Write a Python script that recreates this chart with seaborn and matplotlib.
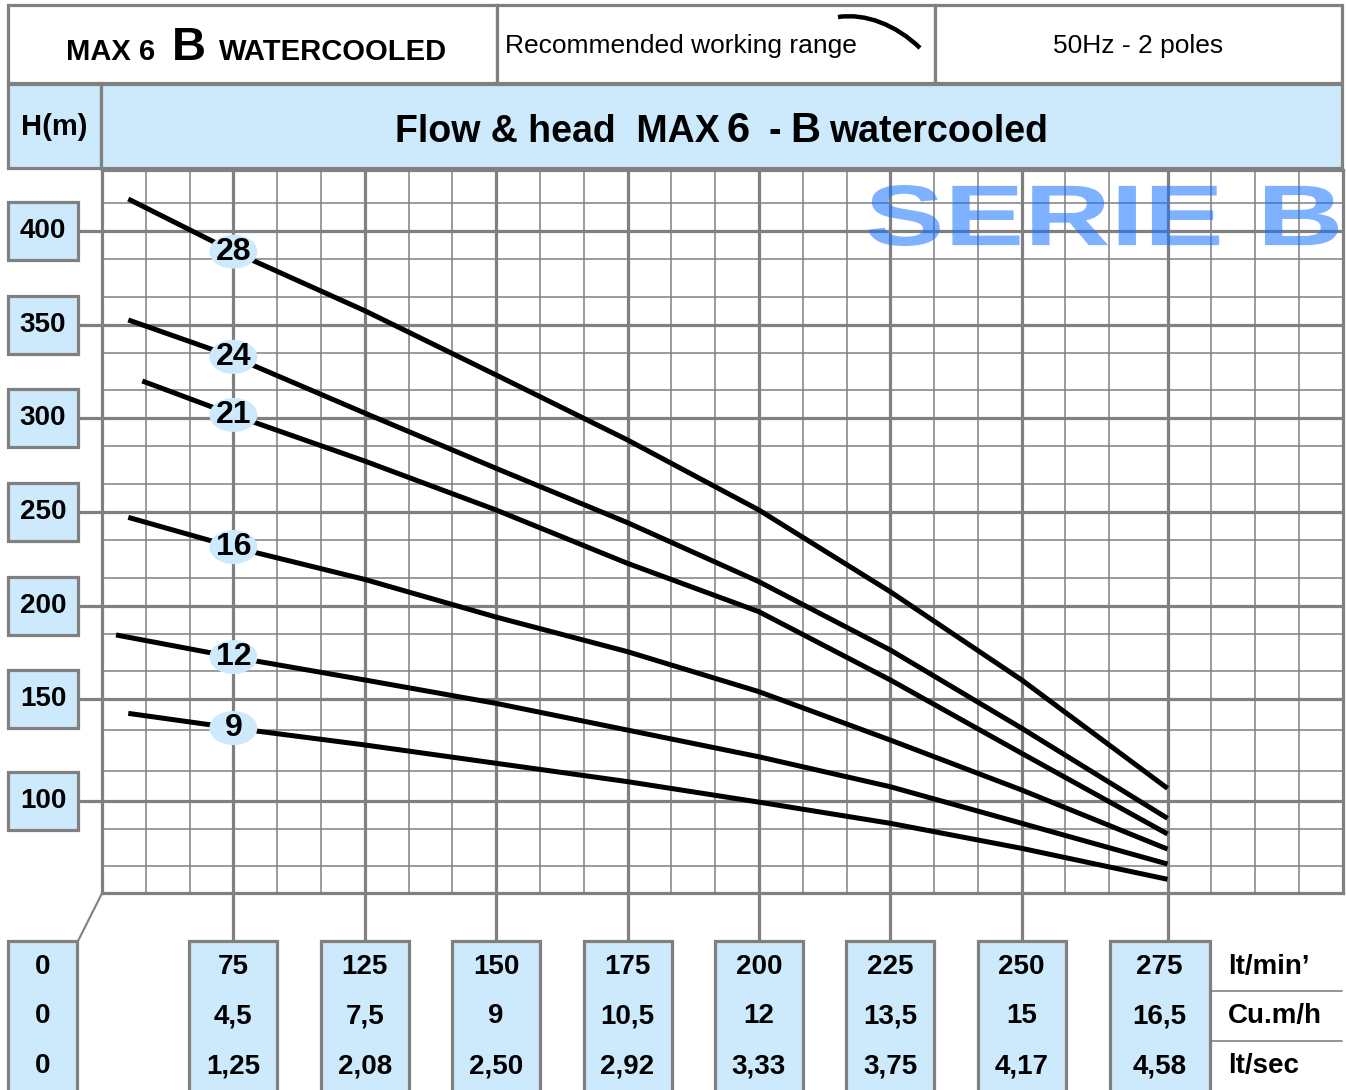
# 水泵性能曲线 MAX 6 B watercooled
import numpy as np
import pandas as pd
import seaborn as sns
import matplotlib.pyplot as plt
from matplotlib.patches import Rectangle, Ellipse, PathPatch
from matplotlib.path import Path
from matplotlib.textpath import TextPath
from matplotlib.font_manager import FontProperties
from matplotlib.transforms import Affine2D

sns.set_style('white')
plt.rcParams['font.family'] = ['Liberation Sans', 'DejaVu Sans']
plt.rcParams['text.color'] = 'black'

# 级数 (曲线标签)
stages = [28, 24, 21, 16, 12, 9]
# 每条曲线的起始流量 (lt/min)
flow_start = [15, 15, 23, 15, 8, 15]
# 曲线读数所在的流量
flow_pts = [75, 125, 150, 175, 200, 225, 250, 275]
# 扬程 H(m): 起点 + flow_pts
head_28 = [417.0, 389.0, 357.6, 323.2, 288.4, 250.9, 207.7, 160.4, 106.3]
head_24 = [352.7, 332.9, 302.8, 273.2, 244.2, 213.0, 176.5, 135.8, 90.7]
head_21 = [320.0, 301.8, 277.1, 250.9, 222.7, 197.1, 160.4, 123.5, 82.2]
head_16 = [247.0, 231.3, 214.2, 194.2, 175.6, 154.1, 130.0, 105.5, 74.0]
head_12 = [184.6, 172.7, 160.4, 148.0, 134.9, 121.8, 107.1, 88.0, 65.9]
head_9 = [143.1, 135.9, 127.6, 118.6, 109.6, 99.5, 88.0, 74.4, 57.6]
heads = [head_28, head_24, head_21, head_16, head_12, head_9]

# 坐标表格
flow_lpm = [0, 75, 125, 150, 175, 200, 225, 250, 275]
flow_m3h = ['0', '4,5', '7,5', '9', '10,5', '12', '13,5', '15', '16,5']
flow_ls = ['0', '1,25', '2,08', '2,50', '2,92', '3,33', '3,75', '4,17', '4,58']
head_ticks = [400, 350, 300, 250, 200, 150, 100]
unit_names = ['lt/min’', 'Cu.m/h', 'lt/sec']

# 原图网格不是线性的, 用分段函数做坐标轴
FLOW_ANCHOR = [0, 75, 125, 150, 175, 200, 225, 250, 275, 308]
U_ANCHOR = [0, 3, 6, 9, 12, 15, 18, 21, 24.33, 28.33]
H_ANCHOR = [50, 100, 150, 200, 250, 300, 350, 400, 432.4]
V_ANCHOR = [0, 92.1, 194, 287, 381.6, 475, 568.3, 662.3, 723.3]


def fwd_x(f):
    return np.interp(f, FLOW_ANCHOR, U_ANCHOR)


def inv_x(u):
    return np.interp(u, U_ANCHOR, FLOW_ANCHOR)


def fwd_y(h):
    return np.interp(h, H_ANCHOR, V_ANCHOR)


def inv_y(v):
    return np.interp(v, V_ANCHOR, H_ANCHOR)


W, H = 1346, 1090
GRAY = '#808080'
LBLUE = '#cdeafc'

fig = plt.figure(figsize=(W / 100, H / 100), dpi=100, facecolor='white')
ax = fig.add_axes([102 / W, (H - 893.3) / H, (1342.7 - 102) / W, (893.3 - 170) / H])

# 曲线数据
frames = []
for s, st, h in zip(stages, flow_start, heads):
    frames.append(pd.DataFrame({'flow': [st] + flow_pts, 'head': h, 'stage': s}))
df = pd.concat(frames, ignore_index=True)

sns.lineplot(data=df, x='flow', y='head', units='stage', estimator=None,
             color='black', linewidth=3.6, sort=False, legend=False, ax=ax,
             solid_capstyle='butt', solid_joinstyle='round', zorder=3)

ax.set_xscale('function', functions=(fwd_x, inv_x))
ax.set_yscale('function', functions=(fwd_y, inv_y))
ax.set_xlim(0, 308)
ax.set_ylim(50, 432.4)
ax.set_xlabel('')
ax.set_ylabel('')

# 网格
minor_u = [u for u in range(1, 24) if u % 3 != 0] + [25.33, 26.33, 27.33]
ax.set_xticks(flow_lpm[1:])
ax.set_xticks(inv_x(np.array(minor_u)), minor=True)
ax.set_yticks(head_ticks)
minor_h = [h for h in range(65, 420, 50)] + [h for h in range(85, 420, 50)]
ax.set_yticks(minor_h, minor=True)
ax.grid(which='major', color=GRAY, lw=2.3)
ax.grid(which='minor', color=GRAY, lw=1.1)
ax.tick_params(which='both', length=0, labelbottom=False, labelleft=False)
for sp in ax.spines.values():
    sp.set_color(GRAY)
    sp.set_linewidth(2.3)


def to_px(f, h):
    dx, dy = ax.transData.transform((f, h))
    return dx, H - dy


# 叠加层, 像素坐标
ov = fig.add_axes([0, 0, 1, 1], zorder=5)
ov.set_xlim(0, W)
ov.set_ylim(H, 0)
ov.axis('off')


def box(x0, y0, x1, y1, fc=LBLUE):
    ov.add_patch(Rectangle((x0, y0), x1 - x0, y1 - y0, fc=fc, ec=GRAY, lw=2.3))


# 表头
box(8, 5, 497, 83, 'white')
box(497, 5, 935, 83, 'white')
box(935, 5, 1342, 83, 'white')
box(8, 84, 101, 168)
box(101, 84, 1342, 168)

ov.text(66, 60, 'MAX 6', fontsize=21, weight='bold', va='baseline')
ov.text(172, 60, 'B', fontsize=34, weight='bold', va='baseline')
ov.text(219, 60, 'WATERCOOLED', fontsize=21, weight='bold', va='baseline')
ov.text(505, 53, 'Recommended working range', fontsize=19, va='baseline')
arc = Path([(838, 17), (866, 13), (896, 25), (920, 48)],
           [Path.MOVETO, Path.CURVE4, Path.CURVE4, Path.CURVE4])
ov.add_patch(PathPatch(arc, fc='none', ec='black', lw=3.2))
ov.text(1138, 53, '50Hz - 2 poles', fontsize=19, ha='center', va='baseline')

ov.text(54, 127, 'H(m)', fontsize=21, weight='bold', ha='center', va='center')
ov.text(395, 142, 'Flow & head  MAX', fontsize=27, weight='bold', va='baseline')
ov.text(727, 142, '6', fontsize=30, weight='bold', va='baseline')
ov.text(768, 142, '-', fontsize=27, weight='bold', va='baseline')
ov.text(790, 142, 'B', fontsize=30, weight='bold', va='baseline')
ov.text(829, 142, 'watercooled', fontsize=27, weight='bold', va='baseline')

# SERIE B 水印
tp = TextPath((0, 0), 'SERIE B', size=100,
              prop=FontProperties(family='Liberation Sans', weight='bold'))
bb = tp.get_extents()
tr = (Affine2D().translate(-bb.x0, -bb.y0)
      .scale(470 / bb.width, -61 / bb.height).translate(868, 246))
ov.add_patch(PathPatch(tr.transform_path(tp), fc='#1571ff', ec='none', alpha=0.55))

# 左侧扬程刻度
for h in head_ticks:
    _, py = to_px(10, h)
    ov.plot([78, 102], [py, py], color=GRAY, lw=2.3)
    box(8, py - 29, 78, py + 29)
    ov.text(43, py, str(h), fontsize=20, weight='bold', ha='center', va='center')

# 底部流量表
rows_y = [967, 1016, 1066]
ov.plot([102, 78], [893.3, 941], color=GRAY, lw=1.5)
for f, m3, ls in zip(flow_lpm, flow_m3h, flow_ls):
    if f == 0:
        cx = 42.5
        box(8, 941, 77, 1100)
    else:
        cx, _ = to_px(f, 60)
        ov.plot([cx, cx], [893.3, 941], color=GRAY, lw=2.3)
        if f == flow_lpm[-1]:
            cx -= 8
            box(cx - 50, 941, cx + 50, 1100)
        else:
            box(cx - 44, 941, cx + 44, 1100)
    for txt, ry in zip([str(f), m3, ls], rows_y):
        ov.text(cx, ry, txt, fontsize=20, weight='bold', ha='center', va='center')

for name, ry in zip(unit_names, rows_y):
    ov.text(1228, ry, name, fontsize=20, weight='bold', ha='left', va='center')
for sy in [991, 1041]:
    ov.plot([1212, 1342], [sy, sy], color=GRAY, lw=1.2)

# 曲线上的级数标签
for s, h in zip(stages, heads):
    px, py = to_px(75, h[1])
    ov.add_patch(Ellipse((px, py), 48, 34, fc=LBLUE, ec='none'))
    ov.text(px, py, str(s), fontsize=23, weight='bold', ha='center', va='center')

fig.savefig('out.png', dpi=100, facecolor='white')
